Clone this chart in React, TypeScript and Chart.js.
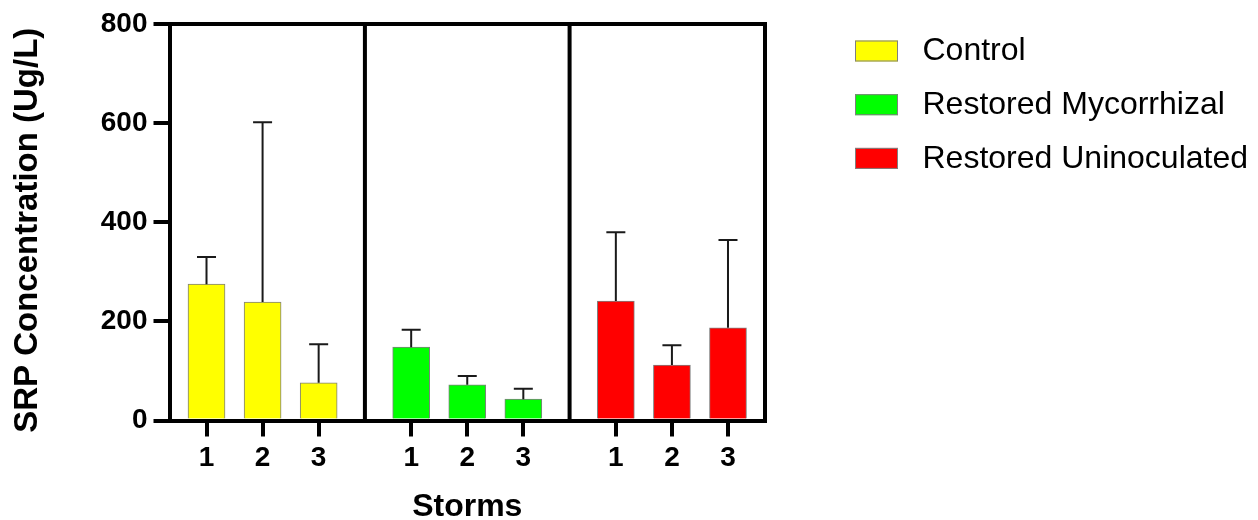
import React, { useEffect, useRef } from "react";
import { Chart, registerables } from "chart.js";

Chart.register(...registerables);

// ---- data ----
const storms = ["1", "2", "3"];
const groupNames = ["Control", "Restored Mycorrhizal", "Restored Uninoculated"];
const groupColors = ["#FFFF00", "#00FF00", "#FF0000"];
const controlMean = [275, 239, 76];
const controlErr = [55, 363, 78];
const mycoMean = [148, 72, 43];
const mycoErr = [35, 18, 21];
const uninocMean = [241, 112, 187];
const uninocErr = [139, 40, 177];
const yTicks = [0, 200, 400, 600, 800];
const yTitle = "SRP Concentration (Ug/L)";
const xTitle = "Storms";

// ---- layout constants ----
const GROUP_STEP = 3.65;
const EDGE = 0.66;
const FONT = "'Liberation Sans', Arial, sans-serif";

const means = [controlMean, mycoMean, uninocMean];
const errs = [controlErr, mycoErr, uninocErr];
const pos = (g: number, i: number) => g * GROUP_STEP + i;
const allPositions: number[] = [];
groupNames.forEach((_, g) => storms.forEach((__, i) => allPositions.push(pos(g, i))));
const separators = [0, 1].map((g) => (pos(g, storms.length - 1) + pos(g + 1, 0)) / 2);

const framePlugin = {
  id: "frame",
  afterDatasetsDraw(chart: any) {
    const { ctx, chartArea: a, scales } = chart;
    const xs = scales.x;
    const ys = scales.y;
    ctx.save();
    ctx.strokeStyle = "#000";
    ctx.lineWidth = 4;
    ctx.beginPath();
    ctx.moveTo(a.left, a.top);
    ctx.lineTo(a.right + 2, a.top);
    ctx.moveTo(a.right, a.top);
    ctx.lineTo(a.right, a.bottom);
    separators.forEach((v) => {
      const px = xs.getPixelForValue(v);
      ctx.moveTo(px, a.top);
      ctx.lineTo(px, a.bottom);
    });
    ctx.stroke();

    // error bars
    ctx.strokeStyle = "#1a1a1a";
    ctx.lineWidth = 2;
    chart.data.datasets.forEach((ds: any, di: number) => {
      const meta = chart.getDatasetMeta(di);
      meta.data.forEach((el: any, i: number) => {
        const m = ds.data[i].y;
        const e = ds.errors[i];
        const x = el.x;
        const y0 = ys.getPixelForValue(m);
        const y1 = ys.getPixelForValue(m + e);
        ctx.beginPath();
        ctx.moveTo(x, y0);
        ctx.lineTo(x, y1);
        ctx.moveTo(x - 9.5, y1);
        ctx.lineTo(x + 9.5, y1);
        ctx.stroke();
      });
    });

    // y title
    ctx.fillStyle = "#000";
    ctx.font = `bold 33px ${FONT}`;
    ctx.textAlign = "center";
    ctx.textBaseline = "middle";
    ctx.translate(27.5, (a.top + a.bottom) / 2 + 8);
    ctx.rotate(-Math.PI / 2);
    ctx.fillText(yTitle, 0, 0);
    ctx.restore();

    // legend
    ctx.save();
    chart.data.datasets.forEach((ds: any, di: number) => {
      const bx = a.right + 90;
      const by = 40.5 + di * 53.7;
      ctx.fillStyle = ds.backgroundColor;
      ctx.fillRect(bx, by, 43, 21);
      ctx.strokeStyle = "#7f7f7f";
      ctx.lineWidth = 1;
      ctx.strokeRect(bx + 0.5, by + 0.5, 42, 20);
      ctx.fillStyle = "#000";
      ctx.font = `32px ${FONT}`;
      ctx.textAlign = "left";
      ctx.textBaseline = "middle";
      ctx.fillText(ds.label, bx + 67.5, by + 11);
    });
    ctx.restore();
  },
};

export default function App() {
  const ref = useRef<HTMLCanvasElement>(null);
  useEffect(() => {
    if (!ref.current) return;
    const chart = new Chart(ref.current, {
      type: "bar",
      data: {
        datasets: groupNames.map((name, g) => ({
          label: name,
          data: storms.map((_, i) => ({ x: pos(g, i), y: means[g][i] })),
          errors: errs[g],
          backgroundColor: groupColors[g],
          borderColor: "#7f7f7f",
          borderWidth: 1,
          barThickness: 37,
          maxBarThickness: 37,
          grouped: false,
        })) as any,
      },
      options: {
        animation: false,
        responsive: false,
        layout: { padding: { left: 0, right: 493, top: 24, bottom: 0 } },
        plugins: { legend: { display: false }, tooltip: { enabled: false } },
        scales: {
          x: {
            type: "linear",
            offset: false,
            min: -EDGE,
            max: pos(2, 2) + EDGE,
            afterBuildTicks: (s: any) => {
              s.ticks = allPositions.map((v) => ({ value: v }));
            },
            afterFit: (s: any) => {
              s.height = 99.5;
            },
            ticks: {
              autoSkip: false,
              maxRotation: 0,
              minRotation: 0,
              color: "#000",
              padding: 5,
              font: { family: FONT, size: 28, weight: "bold" },
              callback: (_v: any, i: number) => storms[i % storms.length],
            },
            grid: { offset: false, drawOnChartArea: false, drawTicks: true, tickLength: 16, lineWidth: 4, color: "#000" },
            border: { display: true, width: 4, color: "#000" },
            title: {
              display: true,
              text: xTitle,
              color: "#000",
              padding: 0,
              font: { family: FONT, size: 32, weight: "bold", lineHeight: 0.8 },
            },
          },
          y: {
            min: 0,
            max: 800,
            afterBuildTicks: (s: any) => {
              s.ticks = yTicks.map((v) => ({ value: v }));
            },
            afterFit: (s: any) => {
              s.width = 169.5;
            },
            ticks: {
              color: "#000",
              padding: 6,
              font: { family: FONT, size: 28, weight: "bold" },
            },
            grid: { drawOnChartArea: false, drawTicks: true, tickLength: 16, lineWidth: 4, color: "#000" },
            border: { display: true, width: 4, color: "#000" },
          },
        },
      },
      plugins: [framePlugin],
    } as any);
    return () => chart.destroy();
  }, []);
  return (
    <div style={{ position: "absolute", left: 0, top: 0, width: 1258, height: 520, background: "#fff" }}>
      <canvas ref={ref} width={1258} height={520} style={{ display: "block" }} />
    </div>
  );
}
